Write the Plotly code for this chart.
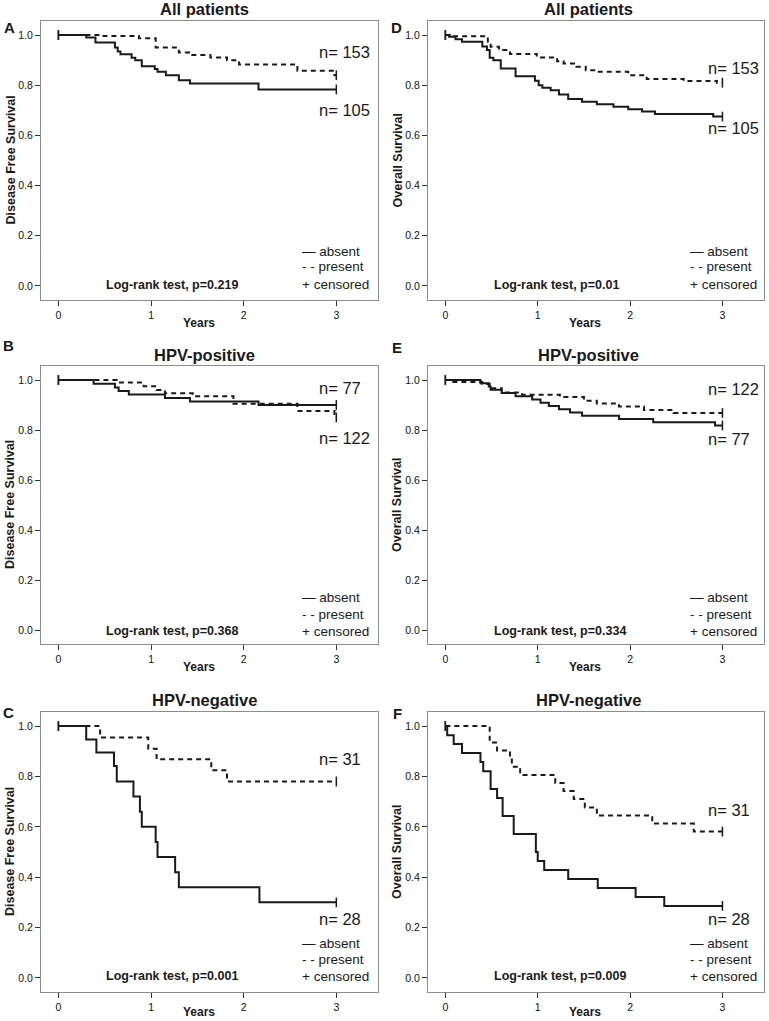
import plotly.graph_objects as go

# ---------------- data ----------------
# Panel A: Disease Free Survival, All patients
A_abs_t = [0, 0.30, 0.40, 0.61, 0.64, 0.67, 0.79, 0.83, 0.90, 1.04, 1.07, 1.16, 1.30, 1.42, 2.16, 3.0]
A_abs_s = [1.0, 0.99, 0.97, 0.95, 0.934, 0.923, 0.91, 0.90, 0.876, 0.865, 0.854, 0.84, 0.82, 0.807, 0.783, 0.783]
A_pre_t = [0, 0.45, 0.87, 1.05, 1.30, 1.41, 1.64, 1.82, 1.95, 2.58, 2.98, 3.0]
A_pre_s = [1.0, 0.996, 0.987, 0.95, 0.93, 0.92, 0.911, 0.90, 0.883, 0.858, 0.84, 0.84]

# Panel B: Disease Free Survival, HPV-positive
B_abs_t = [0, 0.38, 0.61, 0.65, 0.76, 1.15, 1.42, 2.16, 3.0]
B_abs_s = [1.0, 0.985, 0.97, 0.956, 0.942, 0.928, 0.914, 0.90, 0.90]
B_pre_t = [0, 0.63, 0.92, 1.06, 1.15, 1.45, 1.89, 2.58, 2.98, 3.0]
B_pre_s = [1.0, 0.99, 0.975, 0.96, 0.947, 0.935, 0.905, 0.876, 0.857, 0.85]

# Panel C: Disease Free Survival, HPV-negative
C_abs_t = [0, 0.30, 0.41, 0.60, 0.63, 0.81, 0.88, 0.90, 1.05, 1.07, 1.26, 1.30, 2.17, 3.0]
C_abs_s = [1.0, 0.947, 0.895, 0.842, 0.78, 0.72, 0.66, 0.60, 0.54, 0.48, 0.42, 0.36, 0.30, 0.30]
C_pre_t = [0, 0.45, 0.97, 1.06, 1.65, 1.82, 3.0]
C_pre_s = [1.0, 0.955, 0.91, 0.868, 0.825, 0.78, 0.78]

# Panel D: Overall Survival, All patients
D_abs_t = [0, 0.04, 0.11, 0.18, 0.40, 0.45, 0.48, 0.52, 0.60, 0.76, 0.97, 1.01, 1.05, 1.14, 1.23, 1.33,
           1.48, 1.64, 1.82, 1.98, 2.13, 2.27, 2.90, 3.0]
D_abs_s = [1.0, 0.993, 0.983, 0.973, 0.954, 0.94, 0.91, 0.90, 0.867, 0.836, 0.818, 0.80, 0.79, 0.78,
           0.763, 0.745, 0.734, 0.724, 0.714, 0.704, 0.695, 0.685, 0.675, 0.675]
D_pre_t = [0, 0.05, 0.42, 0.46, 0.49, 0.58, 0.70, 0.99, 1.21, 1.28, 1.42, 1.52, 1.64, 1.98, 2.18,
           2.58, 2.94, 3.0]
D_pre_s = [1.0, 0.995, 0.99, 0.973, 0.953, 0.94, 0.924, 0.911, 0.896, 0.887, 0.874, 0.86, 0.854,
           0.84, 0.825, 0.817, 0.81, 0.81]

# Panel E: Overall Survival, HPV-positive
E_abs_t = [0, 0.38, 0.47, 0.49, 0.61, 0.76, 0.94, 1.03, 1.12, 1.23, 1.35, 1.48, 1.88, 2.25, 2.92, 3.0]
E_abs_s = [1.0, 0.987, 0.974, 0.961, 0.948, 0.935, 0.922, 0.909, 0.896, 0.883, 0.87, 0.857, 0.844,
           0.831, 0.818, 0.818]
E_pre_t = [0, 0.05, 0.40, 0.48, 0.61, 0.83, 1.24, 1.50, 1.64, 1.88, 2.15, 2.47, 3.0]
E_pre_s = [1.0, 0.992, 0.984, 0.967, 0.95, 0.941, 0.932, 0.917, 0.906, 0.894, 0.88, 0.868, 0.868]

# Panel F: Overall Survival, HPV-negative
F_abs_t = [0, 0.02, 0.09, 0.18, 0.38, 0.41, 0.49, 0.56, 0.62, 0.74, 0.98, 1.00, 1.07, 1.33, 1.65,
           2.06, 2.37, 3.0]
F_abs_s = [1.0, 0.964, 0.929, 0.893, 0.857, 0.821, 0.75, 0.714, 0.643, 0.571, 0.50, 0.464, 0.429,
           0.393, 0.357, 0.321, 0.286, 0.286]
F_pre_t = [0, 0.48, 0.56, 0.70, 0.72, 0.81, 1.19, 1.28, 1.39, 1.51, 1.64, 2.24, 2.69, 3.0]
F_pre_s = [1.0, 0.935, 0.903, 0.871, 0.839, 0.806, 0.774, 0.742, 0.71, 0.677, 0.645, 0.613, 0.581, 0.581]

titles = ["All patients", "HPV-positive", "HPV-negative", "All patients", "HPV-positive", "HPV-negative"]
letters = ["A", "B", "C", "D", "E", "F"]
ylabels = ["Disease Free Survival"] * 3 + ["Overall Survival"] * 3
pvalues = ["0.219", "0.368", "0.001", "0.01", "0.334", "0.009"]
n_top = ["153", "77", "31", "153", "122", "31"]
n_bot = ["105", "122", "28", "105", "77", "28"]
xtick_vals = [0, 1, 2, 3]
ytick_vals = [0.0, 0.2, 0.4, 0.6, 0.8, 1.0]
legend_lines = ["\u2014 absent", "- - present", "+ censored"]

curves = [
    (A_abs_t, A_abs_s, A_pre_t, A_pre_s),
    (B_abs_t, B_abs_s, B_pre_t, B_pre_s),
    (C_abs_t, C_abs_s, C_pre_t, C_pre_s),
    (D_abs_t, D_abs_s, D_pre_t, D_pre_s),
    (E_abs_t, E_abs_s, E_pre_t, E_pre_s),
    (F_abs_t, F_abs_s, F_pre_t, F_pre_s),
]

# ---------------- layout geometry (pixels) ----------------
W, H = 769, 1021
col_x = [(41, 378), (428, 764)]
row_y = [(21, 300), (366, 644), (712, 992)]

def px(x):
    return x / W

def py(y):
    return 1 - y / H

FONT = "Liberation Sans, Arial, sans-serif"
INK = "#1a1a1a"

fig = go.Figure()
annotations = []

def ann(text, x, y, size, bold=False, xanchor="center", yanchor="middle", angle=0):
    annotations.append(dict(
        text=text, x=px(x), y=py(y), xref="paper", yref="paper",
        showarrow=False, xanchor=xanchor, yanchor=yanchor, textangle=angle,
        font=dict(family=FONT, size=size, color=INK, weight="bold" if bold else "normal"),
    ))

# per-panel text positions (pixels)
title_pos = [(204, 9), (204, 355), (204, 700), (588, 9), (588, 355), (588, 700)]
letter_pos = [(9, 28), (8, 345), (8, 712), (396, 28), (397, 348), (397, 713)]
ylab_x = [10, 10, 10, 397, 397, 397]
years_pos = [(199, 323), (199, 667), (199, 1012), (585, 323), (585, 667), (585, 1012)]
ntop_pos = [(317, 52), (317, 388), (317, 759), (706, 68), (706, 389), (706, 810)]
nbot_pos = [(317, 110), (317, 438), (317, 919), (706, 128), (706, 439), (706, 919)]
legend_pos = [(300, [251, 267, 285]), (300, [597, 614, 631]), (300, [943, 959, 976]),
              (688, [251, 267, 285]), (688, [597, 614, 631]), (688, [943, 959, 976])]
logrank_pos = [(172, 285), (172, 631), (172, 976), (556, 285), (560, 631), (560, 976)]

for i in range(6):
    col, row = i // 3, i % 3
    k = i + 1
    xa = "x" if k == 1 else f"x{k}"
    ya = "y" if k == 1 else f"y{k}"
    x0, x1 = col_x[col]
    y0, y1 = row_y[row]
    axis_common = dict(
        showgrid=False, zeroline=False, showline=True, linecolor="#8c8c8c", linewidth=1,
        mirror=True, ticks="outside", ticklen=5, tickcolor="#333333", tickwidth=1,
        tickfont=dict(family=FONT, size=10.5, color="#111111"),
    )
    fig.update_layout(**{
        ("xaxis" if k == 1 else f"xaxis{k}"): dict(
            domain=[px(x0), px(x1)], range=[-0.188, 3.45], tickvals=xtick_vals,
            anchor=ya, **axis_common),
        ("yaxis" if k == 1 else f"yaxis{k}"): dict(
            domain=[py(y1), py(y0)], range=[-0.056, 1.056], tickvals=ytick_vals,
            tickformat=".1f", anchor=xa, **axis_common),
    })
    at, as_, pt, ps = curves[i]
    fig.add_trace(go.Scatter(x=pt, y=ps, mode="lines", line_shape="hv",
                             line=dict(color=INK, width=2, dash="5px,4px"),
                             xaxis=xa, yaxis=ya, hoverinfo="skip"))
    fig.add_trace(go.Scatter(x=at, y=as_, mode="lines", line_shape="hv",
                             line=dict(color=INK, width=2),
                             xaxis=xa, yaxis=ya, hoverinfo="skip"))
    # censor marks at start and end of each curve
    fig.add_trace(go.Scatter(
        x=[at[0], at[-1], pt[0], pt[-1]], y=[as_[0], as_[-1], ps[0], ps[-1]],
        mode="markers",
        marker=dict(symbol="line-ns", size=7, line=dict(color=INK, width=1.5)),
        xaxis=xa, yaxis=ya, hoverinfo="skip"))

    ann(titles[i], *title_pos[i], 16.5, bold=True)
    ann(letters[i], *letter_pos[i], 15, bold=True)
    ann(ylabels[i], ylab_x[i], (y0 + y1) / 2, 12.5, bold=True, angle=-90)
    ann("Years", *years_pos[i], 12, bold=True)
    ann("n= " + n_top[i], *ntop_pos[i], 16.5, xanchor="left")
    ann("n= " + n_bot[i], *nbot_pos[i], 16.5, xanchor="left")
    lx, lys = legend_pos[i]
    for txt, ly in zip(legend_lines, lys):
        ann(txt, lx, ly, 13.5, xanchor="left")
    ann("Log-rank test, p=" + pvalues[i], *logrank_pos[i], 12.5, bold=True)

fig.update_layout(
    width=W, height=H, margin=dict(l=0, r=0, t=0, b=0),
    paper_bgcolor="white", plot_bgcolor="white", showlegend=False,
    annotations=annotations,
)

fig.write_html("out.html", config={"displayModeBar": False},
               post_script="document.body.style.margin='0';document.body.style.overflow='hidden';")
